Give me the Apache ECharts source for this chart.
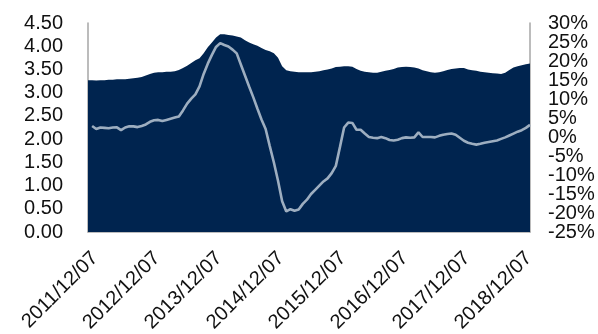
<!DOCTYPE html>
<html><head><meta charset="utf-8">
<script src="https://cdn.jsdelivr.net/npm/echarts@6/dist/echarts.min.js"></script>
<style>html,body{margin:0;padding:0;background:#fff}#c{width:598px;height:334px}</style>
</head><body><div id="c"></div>
<script>
// x tick labels (one label every 15 periods)
const tickLabels = ["2011/12/07","2012/12/07","2013/12/07","2014/12/07","2015/12/07","2016/12/07","2017/12/07","2018/12/07"];
const periodsPerLabel = 15;
// left axis series (area)
const levelValues = [
3.27,3.27,3.26,3.27,3.27,3.28,3.28,3.29,3.29,3.29,
3.30,3.31,3.32,3.34,3.37,3.40,3.43,3.44,3.44,3.45,
3.45,3.46,3.49,3.53,3.58,3.64,3.70,3.74,3.85,3.98,
4.08,4.19,4.26,4.26,4.24,4.23,4.21,4.19,4.13,4.08,
4.04,4.01,3.96,3.92,3.89,3.85,3.75,3.57,3.48,3.46,
3.45,3.44,3.44,3.44,3.44,3.45,3.46,3.48,3.50,3.52,
3.55,3.56,3.57,3.57,3.56,3.51,3.47,3.45,3.44,3.43,
3.43,3.45,3.47,3.49,3.51,3.54,3.55,3.56,3.55,3.54,
3.52,3.48,3.46,3.44,3.43,3.44,3.46,3.49,3.51,3.52,
3.53,3.53,3.50,3.48,3.47,3.45,3.44,3.43,3.42,3.41,
3.40,3.43,3.49,3.54,3.57,3.59,3.61,3.63];
// right axis series (line, %)
const changePct = [
null,2.9,2.1,2.5,2.4,2.3,2.5,2.55,1.8,2.5,
2.8,2.8,2.6,2.9,3.3,4.0,4.4,4.5,4.2,4.5,
4.8,5.1,5.4,7.0,8.8,10.1,11.2,13.3,16.6,19.3,
21.6,23.7,24.7,24.2,23.8,23.0,22.0,19.1,16.2,13.3,
10.5,7.5,4.6,2.1,-2.4,-6.7,-11.5,-16.9,-19.6,-19.0,
-19.4,-19.1,-17.6,-16.5,-15.0,-13.9,-12.8,-11.7,-10.9,-9.5,
-7.6,-2.6,2.5,3.8,3.7,1.9,1.9,0.9,0.0,-0.2,
-0.3,0.0,-0.3,-0.8,-0.9,-0.7,-0.3,-0.1,-0.2,-0.1,
1.2,0.0,0.0,0.0,-0.1,0.3,0.6,0.8,0.9,0.6,
-0.2,-1.0,-1.5,-1.8,-2.0,-1.8,-1.5,-1.3,-1.1,-0.9,
-0.5,-0.1,0.4,0.9,1.4,1.8,2.4,3.2];
const leftAxisRange = [0, 4.5, 0.5];
const rightAxisRange = [-25, 30, 5];

const categories = levelValues.map((_, i) => String(i));
const FONT = '"Liberation Sans", Arial, sans-serif';
const axisLineStyle = {show: true, lineStyle: {color: '#A6A6A6', width: 1.5}};

// right axis labels are split over two overlaid axes (alternate ticks) so none get hidden
const rightStep = (v) => Math.round((v - rightAxisRange[0]) / rightAxisRange[2]);
function rightAxis(parity, showLine) {
  return {
    type: 'value', position: 'right', offset: 0,
    min: rightAxisRange[0], max: rightAxisRange[1], interval: rightAxisRange[2],
    axisLine: showLine ? axisLineStyle : {show: false},
    axisTick: {show: false}, splitLine: {show: false},
    axisLabel: {margin: 18, fontSize: 20, fontFamily: FONT, color: '#111',
      showMinLabel: true, showMaxLabel: true,
      formatter: v => (rightStep(v) % 2 === parity ? v + '%' : '')}
  };
}

const chart = echarts.init(document.getElementById('c'), null, {renderer: 'canvas'});
chart.setOption({
  animation: false,
  backgroundColor: '#ffffff',
  grid: {left: 88, right: 68, top: 23, bottom: 102, containLabel: false, outerBoundsMode: 'none'},
  xAxis: {
    type: 'category', data: categories, boundaryGap: false,
    axisLine: axisLineStyle, axisTick: {show: false}, splitLine: {show: false},
    axisLabel: {
      rotate: 45, margin: 16, fontSize: 20, fontFamily: FONT, color: '#111',
      align: 'right', verticalAlign: 'top',
      interval: (idx) => idx % periodsPerLabel === 0 && idx / periodsPerLabel < tickLabels.length,
      formatter: (v, idx) => tickLabels[Math.round(idx / periodsPerLabel)] || ''
    }
  },
  yAxis: [{
    type: 'value', min: leftAxisRange[0], max: leftAxisRange[1], interval: leftAxisRange[2],
    axisLine: axisLineStyle, axisTick: {show: false}, splitLine: {show: false},
    axisLabel: {margin: 25, fontSize: 20, fontFamily: FONT, color: '#111',
      showMinLabel: true, showMaxLabel: true,
      formatter: v => v.toFixed(2)}
  }, rightAxis(0, true), rightAxis(1, false)],
  series: [{
    type: 'line', yAxisIndex: 0, data: levelValues, symbol: 'none',
    lineStyle: {width: 0}, areaStyle: {color: '#00244F', opacity: 1}, z: 1
  }, {
    type: 'line', yAxisIndex: 1, data: changePct, symbol: 'none',
    lineStyle: {width: 2.6, color: '#9DAEC0'}, z: 2
  }]
});
</script></body></html>
